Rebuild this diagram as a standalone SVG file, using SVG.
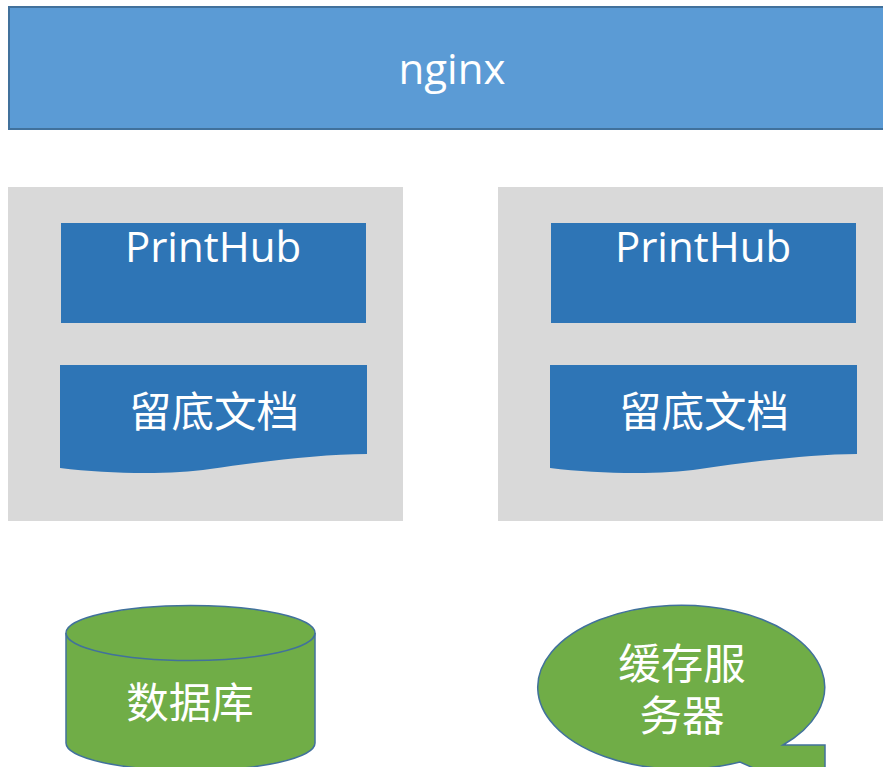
<svg xmlns="http://www.w3.org/2000/svg" width="883" height="767" viewBox="0 0 883 767">
<style>
.lbl{fill:#ffffff;font-family:"Open Sans","Noto Sans CJK SC",sans-serif;text-anchor:middle}
.cjk{fill:#ffffff;font-family:"Liberation Sans","Noto Sans CJK SC",sans-serif;text-anchor:middle;font-size:42.5px}
.panel{fill:#D9D9D9}
.blue{fill:#2E75B6}
.green{fill:#70AD47;stroke:#41719C;stroke-width:1.5}
</style>
<g id="nginx">
<rect x="9" y="7" width="890" height="122" fill="#5B9BD5" stroke="#41719C" stroke-width="2"/>
<text class="lbl" x="452" y="84" font-size="42">nginx</text>
</g>
<g id="server-left">
<rect class="panel" x="8" y="187" width="395" height="334"/>
<g id="printhub-left">
<rect class="blue" x="61" y="223" width="305" height="100"/>
<text class="lbl" x="213" y="262" font-size="42">PrintHub</text>
</g>
<g id="doc-left">
<path class="blue" d="M60,365 H367 V454 C320,454 260,462 210,469 C170,475 110,474 60,468 Z"/>
<text class="cjk" x="214" y="427">留底文档</text>
</g>
</g>
<g id="server-right">
<rect class="panel" x="498" y="187" width="400" height="334"/>
<g id="printhub-right">
<rect class="blue" x="551" y="223" width="305" height="100"/>
<text class="lbl" x="703" y="262" font-size="42">PrintHub</text>
</g>
<g id="doc-right">
<path class="blue" d="M550,365 H857 V454 C810,454 750,462 700,469 C660,475 600,474 550,468 Z"/>
<text class="cjk" x="704" y="427">留底文档</text>
</g>
</g>
<g id="database">
<path class="green" d="M66,633 V743 A124.5,27.5 0 0 0 315,743 V633"/>
<ellipse class="green" cx="190.5" cy="633" rx="124.5" ry="27.5"/>
<text class="cjk" x="190" y="718">数据库</text>
</g>
<g id="cache">
<path class="green" d="M783,745 L825,745 L825,800 L740,762 A143.5,82 0 1 1 783,745 Z"/>
<text class="cjk" x="682" y="679">缓存服</text>
<text class="cjk" x="682" y="731">务器</text>
</g>
<g id="connectors"></g>
</svg>
